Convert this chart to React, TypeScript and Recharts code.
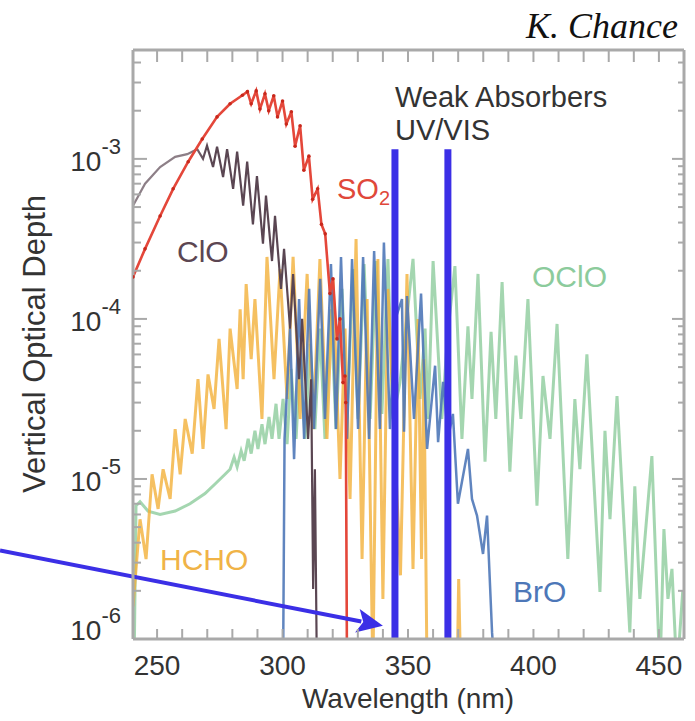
import { Line, LineChart, ReferenceLine, XAxis, YAxis } from "recharts";

// wavelength (nm), vertical optical depth
const so2: [number, number][] = [
  [240.4, 1.83e-4], [245.2, 2.74e-4], [251.2, 4.4e-4], [256.4, 6.5e-4], [262.4, 9.6e-4],
  [268.0, 1.33e-3], [273.9, 1.83e-3], [279.1, 2.21e-3], [284.0, 2.5e-3], [286.0, 2.63e-3],
  [287.5, 2.21e-3], [289.5, 2.66e-3], [291.0, 2.05e-3], [293.0, 2.55e-3], [294.5, 2.0e-3],
  [296.5, 2.48e-3], [298.0, 1.83e-3], [300.0, 2.3e-3], [301.5, 1.65e-3], [303.5, 1.97e-3],
  [305.0, 1.2e-3], [307.0, 1.61e-3], [308.5, 8.5e-4], [310.5, 1.04e-3], [312.0, 5.6e-4],
  [314.0, 6.5e-4], [315.5, 3.9e-4], [317.0, 3.4e-4], [318.9, 1.44e-4], [320.1, 1.78e-4],
  [321.7, 7.5e-5], [322.9, 1.0e-4], [324.1, 4.0e-5], [324.9, 4.4e-5], [325.2, 3.0e-5],
  [325.7, 6e-7],
];

const clo: [number, number][] = [
  [240.4, 5.1e-4], [245.2, 7.0e-4], [251.2, 8.9e-4], [257.2, 1.03e-3], [262.0, 1.07e-3],
  [266.0, 1.15e-3], [268.3, 1.0e-3], [269.9, 1.21e-3], [272.3, 8.9e-4], [273.9, 1.19e-3],
  [276.3, 7.7e-4], [277.9, 1.15e-3], [280.3, 6.5e-4], [281.9, 1.11e-3], [284.3, 5.1e-4],
  [285.9, 9.6e-4], [288.2, 3.9e-4], [289.8, 7.8e-4], [292.2, 2.95e-4], [293.4, 5.9e-4],
  [295.8, 2.3e-4], [297.0, 4.4e-4], [299.4, 1.54e-4], [300.6, 2.74e-4], [303.0, 8.7e-5],
  [304.2, 1.91e-4], [306.6, 4.2e-5], [307.8, 1.0e-4], [310.2, 1.78e-5], [311.4, 4.2e-5],
  [312.2, 2.05e-6], [312.9, 1.15e-5], [313.7, 6e-7],
];

const hcho: [number, number][] = [
  [240.4, 1.6e-6], [243.2, 5.6e-6], [245.6, 3.16e-6], [248.0, 1.07e-5], [250.4, 6.5e-6],
  [252.4, 1.15e-5], [255.2, 7.5e-6], [257.2, 2.05e-5], [259.2, 1.07e-5], [261.2, 2.37e-5],
  [264.0, 1.44e-5], [266.3, 4.2e-5], [268.3, 1.54e-5], [270.3, 4.5e-5], [272.7, 2.74e-5],
  [274.7, 7.5e-5], [277.5, 2.05e-5], [279.1, 8.7e-5], [281.9, 3.65e-5], [283.1, 1.15e-4],
  [284.3, 4.2e-5], [285.5, 1.65e-4], [287.5, 5.6e-5], [289.0, 1.33e-4], [291.8, 2.37e-5],
  [293.8, 2.44e-4], [296.6, 4.2e-5], [299.0, 2.05e-4], [301.8, 3.16e-5], [304.2, 2.44e-4],
  [307.0, 2.37e-5], [309.8, 1.91e-4], [312.2, 2.05e-5], [314.9, 2.37e-4], [317.7, 1.78e-5],
  [320.1, 1.78e-4], [322.9, 1.0e-5], [324.9, 8.7e-5], [326.9, 7.5e-6], [329.3, 3.16e-4],
  [331.7, 3.16e-6], [333.7, 1.33e-4], [336.0, 6e-7], [338.0, 2.37e-4], [340.0, 1.78e-6],
  [342.0, 1.54e-4], [347.0, 2.5e-6], [349.6, 1.91e-4], [352.0, 2.74e-6], [354.0, 1.0e-4],
  [355.4, 3.16e-6], [356.3, 5.6e-5], [357.6, 6e-7], [369.6, 6e-7], [370.2, 2.37e-6],
  [371.0, 6e-7],
];

const bro: [number, number][] = [
  [300.2, 6e-7], [300.8, 1.78e-5], [303.0, 8.7e-5], [304.6, 1.33e-5], [306.6, 1.33e-4],
  [308.6, 1.78e-5], [310.6, 1.54e-4], [312.5, 2.05e-5], [315.0, 1.78e-4], [316.9, 2.37e-5],
  [319.3, 2.2e-4], [321.3, 2.05e-5], [323.3, 2.44e-4], [325.7, 1.78e-5], [327.7, 2.37e-4],
  [330.1, 2.05e-5], [332.1, 2.44e-4], [334.5, 1.78e-5], [336.5, 2.66e-4], [338.8, 2.05e-5],
  [340.4, 3.0e-4], [342.8, 2.05e-5], [345.0, 1.0e-4], [347.6, 1.33e-4], [348.4, 1.97e-5],
  [349.6, 1.39e-4], [352.4, 2.37e-5], [355.2, 1.44e-4], [357.6, 1.54e-5], [360.8, 5.1e-5],
  [362.0, 1.7e-5], [364.0, 4.05e-5], [366.0, 1.8e-5], [367.9, 2.55e-5], [369.9, 7.0e-6],
  [373.9, 1.54e-5], [375.5, 7.5e-6], [377.5, 5.9e-6], [379.9, 3.4e-6], [381.5, 5.9e-6],
  [383.5, 1.1e-6], [384.7, 6e-7],
];

const oclo: [number, number][] = [
  [240.8, 6e-7], [241.6, 6.8e-6], [243.2, 7.2e-6], [246.4, 6.3e-6], [251.2, 6.0e-6],
  [257.2, 6.3e-6], [263.1, 7.0e-6], [269.1, 8.1e-6], [273.1, 9.3e-6], [277.1, 1.07e-5],
  [279.1, 1.15e-5], [280.7, 1.37e-5], [281.9, 1.19e-5], [283.5, 1.5e-5], [284.7, 1.3e-5],
  [286.3, 1.78e-5], [287.5, 1.44e-5], [289.0, 2.0e-5], [290.2, 1.54e-5], [291.8, 2.2e-5],
  [293.0, 1.65e-5], [294.6, 2.44e-5], [295.8, 1.78e-5], [297.4, 2.95e-5], [298.6, 1.78e-5],
  [300.2, 3.16e-5], [301.8, 1.65e-5], [303.4, 4.87e-5], [305.4, 1.78e-5], [307.0, 5.6e-5],
  [309.0, 1.78e-5], [311.0, 7.0e-5], [312.9, 2.05e-5], [314.9, 8.7e-5], [316.9, 1.78e-5],
  [319.3, 1.15e-4], [321.3, 2.05e-5], [323.7, 1.54e-4], [325.7, 2.37e-5], [328.1, 2.05e-4],
  [330.1, 2.37e-5], [332.5, 2.2e-4], [334.9, 2.37e-5], [337.3, 2.3e-4], [339.6, 2.55e-5],
  [342.0, 2.37e-4], [344.0, 2.37e-5], [346.8, 4.0e-5], [352.0, 2.37e-4], [354.8, 3.16e-5],
  [356.8, 8.7e-5], [358.0, 2.37e-5], [360.0, 2.3e-4], [363.5, 2.37e-5], [365.8, 8.0e-5],
  [368.7, 2.14e-4], [371.5, 1.78e-5], [373.9, 9.0e-5], [375.5, 3.16e-5], [377.9, 1.91e-4],
  [380.7, 1.28e-5], [383.1, 8.3e-5], [385.0, 2.37e-5], [387.5, 1.7e-4], [390.6, 1.11e-5],
  [393.0, 5.9e-5], [395.0, 2.37e-5], [397.8, 1.33e-4], [401.4, 6.8e-6], [403.8, 4.4e-5],
  [406.6, 1.78e-5], [409.4, 9.3e-5], [413.7, 3.16e-6], [416.5, 3.16e-5], [418.5, 1.15e-5],
  [421.3, 6.0e-5], [426.5, 1.97e-6], [428.5, 2.0e-5], [430.5, 5.6e-6], [433.3, 3.3e-5],
  [438.4, 1.1e-6], [440.4, 9.0e-6], [442.4, 1.78e-6], [447.2, 1.39e-5], [450.4, 6e-7],
  [452.0, 4.87e-6], [453.6, 1.78e-6], [455.2, 2.74e-6], [457.2, 6e-7], [459.5, 2.0e-6],
];

// the two "weak absorber" window markers and the pointer arrow
const windowEdges = [344.8, 365.9];
const windowTop = 1.15e-3;
const arrowFrom = { x: 187.4, y: 3.57e-6 };
const arrowTo = { x: 340.0, y: 1.21e-6 };

const wavelengthTicks = [250, 260, 270, 280, 290, 300, 310, 320, 330, 340, 350, 360, 370, 380, 390, 400, 410, 420, 430, 440, 450];
const wavelengthLabels = [250, 300, 350, 400, 450];
const depthDecades = [1e-6, 1e-5, 1e-4, 1e-3];
const mantissas = [1, 2, 3, 4, 5, 6, 7, 8, 9];
const depthMax = 4.79e-3;
const depthTicks = depthDecades.flatMap((d) => mantissas.map((m) => m * d)).filter((v) => v <= depthMax);

const FONT = '"Liberation Sans", Arial, Helvetica, sans-serif';
const INK = "#333333";
const FRAME = "#a9a9a9";
const BLUE = "#3b2fe6";

const rows = (pts: [number, number][]) => pts.map(([wl, od]) => ({ wl, od }));

const isDecade = (v: number) => {
  const e = Math.log10(v);
  return Math.abs(e - Math.round(e)) < 1e-6;
};

function BottomTick({ x, y, payload }: any) {
  const v = payload.value;
  return (
    <g>
      <line x1={x} x2={x} y1={y} y2={y - 10} stroke={FRAME} strokeWidth={2} />
      {wavelengthLabels.includes(v) && (
        <text x={x} y={y + 36} textAnchor="middle" fontSize={28} fontFamily={FONT} fill={INK}>
          {v}
        </text>
      )}
    </g>
  );
}

function TopTick({ x, y }: any) {
  return <line x1={x} x2={x} y1={y} y2={y + 12} stroke={FRAME} strokeWidth={2} />;
}

function LeftTick({ x, y, payload }: any) {
  const major = isDecade(payload.value);
  const exp = Math.round(Math.log10(payload.value));
  return (
    <g>
      <line x1={x} x2={x + (major ? 14 : 8)} y1={y} y2={y} stroke={FRAME} strokeWidth={2} />
      {major && (
        <text
          x={x - 12}
          y={y + (exp === -6 ? 1 : 12)}
          textAnchor="end"
          fontSize={28}
          fontFamily={FONT}
          fill={INK}
        >
          10
          <tspan dy={-17} fontSize={22}>
            -{-exp}
          </tspan>
        </text>
      )}
    </g>
  );
}

function RightTick({ x, y, payload }: any) {
  const major = isDecade(payload.value);
  return <line x1={x} x2={x - (major ? 12 : 6)} y1={y} y2={y} stroke={FRAME} strokeWidth={2} />;
}

function ArrowShape({ x1, y1, x2, y2 }: any) {
  const len = Math.hypot(x2 - x1, y2 - y1);
  const ux = (x2 - x1) / len;
  const uy = (y2 - y1) / len;
  const head = 26;
  const half = 12;
  const bx = x2 - ux * head;
  const by = y2 - uy * head;
  return (
    <g>
      <line x1={x1} y1={y1} x2={bx + ux * 4} y2={by + uy * 4} stroke={BLUE} strokeWidth={4} />
      <polygon
        points={`${x2},${y2} ${bx - uy * half},${by + ux * half} ${bx + ux * 6},${by + uy * 6} ${bx + uy * half},${by - ux * half}`}
        fill={BLUE}
      />
    </g>
  );
}

const labelStyle = { fontFamily: FONT };

export default function App() {
  return (
    <div style={{ position: "absolute", left: 0, top: 0, width: 695, height: 721, background: "#fff" }}>
      <LineChart width={695} height={721} margin={{ top: 40, right: 6, bottom: 42, left: 73 }}>
        <defs>
          {/* ClO: thin grey continuum on the left, dark band structure after ~266 nm */}
          <linearGradient id="cloStroke" x1="0" y1="0" x2="1" y2="0">
            <stop offset="0.3" stopColor="#8d7f87" />
            <stop offset="0.4" stopColor="#5a4652" />
          </linearGradient>
        </defs>
        <XAxis
          dataKey="wl"
          type="number"
          domain={[240.4, 460]}
          allowDataOverflow
          ticks={wavelengthTicks}
          interval={0}
          tickSize={0}
          tickMargin={0}
          tickLine={false}
          height={40}
          axisLine={{ stroke: FRAME, strokeWidth: 3 }}
          tick={(p: any) => <BottomTick {...p} />}
        />
        <XAxis
          xAxisId="top"
          orientation="top"
          dataKey="wl"
          type="number"
          domain={[240.4, 460]}
          allowDataOverflow
          ticks={wavelengthTicks}
          interval={0}
          tickSize={0}
          tickMargin={0}
          tickLine={false}
          height={10}
          axisLine={{ stroke: FRAME, strokeWidth: 3 }}
          tick={(p: any) => <TopTick {...p} />}
        />
        <YAxis
          scale="log"
          type="number"
          domain={[1e-6, depthMax]}
          allowDataOverflow
          ticks={depthTicks}
          interval={0}
          tickSize={0}
          tickMargin={0}
          tickLine={false}
          width={60}
          axisLine={{ stroke: FRAME, strokeWidth: 3 }}
          tick={(p: any) => <LeftTick {...p} />}
        />
        <YAxis
          yAxisId="right"
          orientation="right"
          scale="log"
          type="number"
          domain={[1e-6, depthMax]}
          allowDataOverflow
          ticks={depthTicks}
          interval={0}
          tickSize={0}
          tickMargin={0}
          tickLine={false}
          width={5}
          axisLine={{ stroke: FRAME, strokeWidth: 3 }}
          tick={(p: any) => <RightTick {...p} />}
        />

        <Line data={rows(oclo)} dataKey="od" type="linear" stroke="#86c896" strokeWidth={3} strokeOpacity={0.75} dot={false} isAnimationActive={false} />
        <Line data={rows(hcho)} dataKey="od" type="linear" stroke="#f2b03a" strokeWidth={3} strokeOpacity={0.8} dot={false} isAnimationActive={false} />
        <Line data={rows(bro)} dataKey="od" type="linear" stroke="#4f78b8" strokeWidth={2.5} strokeOpacity={0.9} dot={false} isAnimationActive={false} />
        <Line data={rows(clo)} dataKey="od" type="linear" stroke="url(#cloStroke)" strokeWidth={2.2} dot={false} isAnimationActive={false} />
        <Line
          data={rows(so2)}
          dataKey="od"
          type="linear"
          stroke="#e4473a"
          strokeWidth={2.6}
          dot={{ r: 1.8, fill: "#c8281c", stroke: "none" }}
          isAnimationActive={false}
        />

        {windowEdges.map((wl) => (
          <ReferenceLine
            key={wl}
            segment={[{ x: wl, y: windowTop }, { x: wl, y: 1e-6 }]}
            stroke={BLUE}
            strokeWidth={7}
            ifOverflow="visible"
          />
        ))}
        <ReferenceLine segment={[arrowFrom, arrowTo]} ifOverflow="visible" shape={(p: any) => <ArrowShape {...p} />} />

        <text x={177} y={262} fontSize={30} fill="#5c4652" style={labelStyle}>ClO</text>
        <text x={337} y={199} fontSize={29} fill="#e0483a" style={labelStyle}>
          SO<tspan dy={6} fontSize={20}>2</tspan>
        </text>
        <text x={532} y={287} fontSize={30} fill="#8ccb9c" style={labelStyle}>OClO</text>
        <text x={160} y={570} fontSize={30} fill="#f0b347" style={labelStyle}>HCHO</text>
        <text x={513} y={602} fontSize={30} fill="#4d77b8" style={labelStyle}>BrO</text>

        <text x={395} y={107} fontSize={29} fill={INK} style={labelStyle}>Weak Absorbers</text>
        <text x={395} y={140} fontSize={29} fill={INK} style={labelStyle}>UV/VIS</text>
        <text
          x={678}
          y={38}
          textAnchor="end"
          fontSize={36}
          fontStyle="italic"
          fill="#111"
          style={{ fontFamily: '"Liberation Serif", "Times New Roman", serif' }}
        >
          K. Chance
        </text>

        <text x={408} y={708} textAnchor="middle" fontSize={28} fill={INK} style={labelStyle}>
          Wavelength (nm)
        </text>
        <text transform="translate(45 344) rotate(-90)" textAnchor="middle" fontSize={31} fill={INK} style={labelStyle}>
          Vertical Optical Depth
        </text>
      </LineChart>
    </div>
  );
}
